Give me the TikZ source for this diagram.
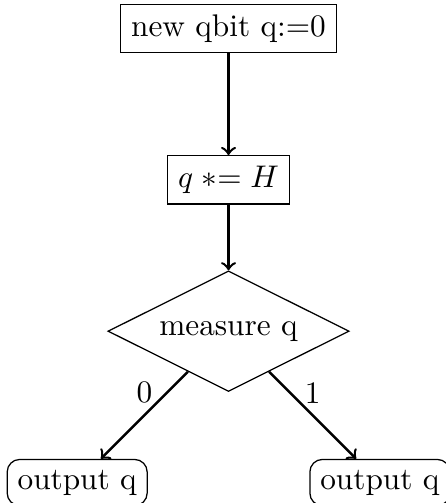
\documentclass[tikz,border=0pt]{standalone}
\usetikzlibrary{shapes.geometric}
\begin{document}
\begin{tikzpicture}[
    stepnode/.style={draw, rectangle},
    decide/.style={draw, diamond, aspect=2},
    outnode/.style={draw, rectangle, rounded corners},
    flow/.style={->, thick}
  ]
  % Fixed frame (bottom boxes run off the page)
  \useasboundingbox (-2.567,0.32) rectangle (2.432,-5.33);

  % Steps
  \node[stepnode] (init) at (0,0) {new qbit q:=0};
  \node[stepnode] (hadamard) at (0,-1.7) {$q \mathrel{*}= H$};
  \node[decide] (meas) at (0,-3.4) {measure q};

  % Outcomes
  \node[outnode] (out0) at (-1.7,-5.1) {output q};
  \node[outnode] (out1) at (1.7,-5.1) {output q};

  % Arrows
  \draw[flow] (init) -- (hadamard);
  \draw[flow] (hadamard) -- (meas);
  \draw[flow] (meas) -- node[above] {0} (out0);
  \draw[flow] (meas) -- node[above] {1} (out1);
\end{tikzpicture}
\end{document}
